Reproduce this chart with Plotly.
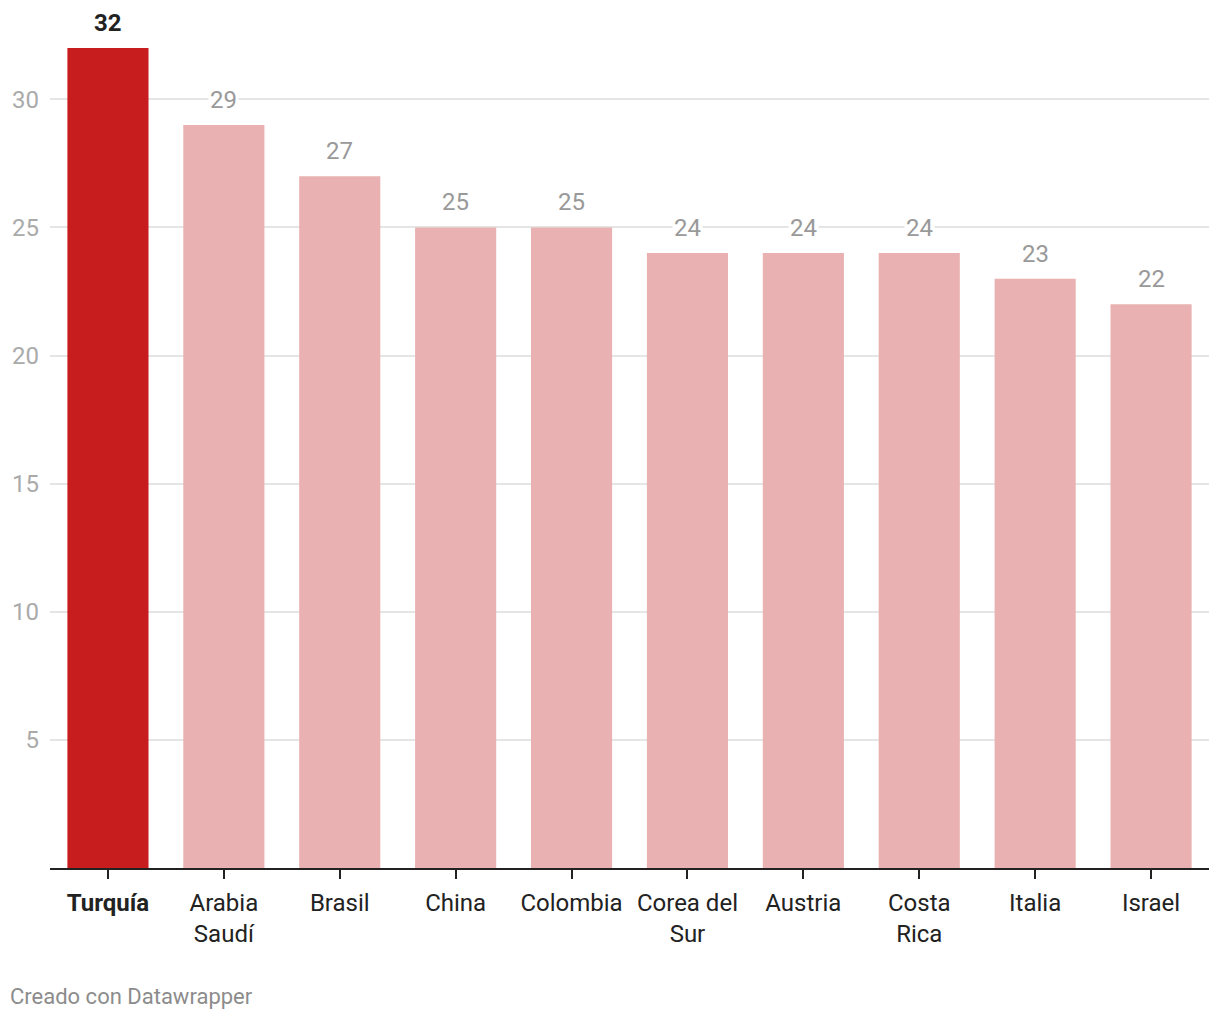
"""
Bar chart: top 10 countries, Turquía highlighted
"""
import plotly.graph_objects as go

# Data
paises = ["Turquía", "Arabia<br>Saudí", "Brasil", "China", "Colombia",
          "Corea del<br>Sur", "Austria", "Costa<br>Rica", "Italia", "Israel"]
valores = [32, 29, 27, 25, 25, 24, 24, 24, 23, 22]
ytick_vals = [5, 10, 15, 20, 25, 30]

ROJO = "#c71d1e"
ROSA = "#e9b1b1"
FONT = "Roboto"

# page body adds an 8px margin, so the figure is a bit smaller
W, H = 1204, 1004
ML, MR, MT, MB = 41.5, 2.5, 40, 144
plot_w = W - ML - MR
plot_h = H - MT - MB

colores = [ROJO] + [ROSA] * (len(valores) - 1)
etiquetas = ["<b>" + paises[0] + "</b>"] + paises[1:]

fig = go.Figure()
fig.add_trace(go.Bar(
    x=etiquetas,
    y=valores,
    marker_color=colores,
    marker_line_width=0,
    hoverinfo="x+y",
))

# value labels above the bars (white background hides the grid line)
for i, (cat, val) in enumerate(zip(etiquetas, valores)):
    fig.add_annotation(
        x=cat, y=val, yanchor="bottom", yshift=9,
        text=f"<b>{val}</b>" if i == 0 else str(val),
        showarrow=False,
        bgcolor="white",
        borderpad=1,
        font=dict(family=FONT, size=24, color="#222222" if i == 0 else "#999999"),
    )

# footer
fig.add_annotation(
    x=(-1 - ML) / plot_w, y=(MT + plot_h - 989) / plot_h,
    xref="paper", yref="paper", text="Creado con Datawrapper",
    showarrow=False, xanchor="left", yanchor="middle",
    font=dict(family=FONT, size=22, color="#8c8c8c"),
)

fig.update_layout(
    width=W, height=H,
    margin=dict(l=ML, r=MR, t=MT, b=MB, pad=0),
    paper_bgcolor="white", plot_bgcolor="white",
    bargap=0.3,
    showlegend=False,
    font=dict(family=FONT, size=24, color="#222222"),
)
fig.update_xaxes(
    showline=True, linecolor="#222222", linewidth=2,
    ticks="outside", ticklen=9, tickwidth=2, tickcolor="#222222",
    tickfont=dict(family=FONT, size=24, color="#222222"),
    ticklabelstandoff=3,
    showgrid=False,
)
fig.update_yaxes(
    range=[0, 32], tickvals=ytick_vals,
    showgrid=True, gridcolor="#e5e5e5", gridwidth=2,
    zeroline=False, showline=False, ticks="",
    tickfont=dict(family=FONT, size=24, color="#aaaaaa"),
    ticklabelstandoff=10,
)

fig.write_html("out.html")
